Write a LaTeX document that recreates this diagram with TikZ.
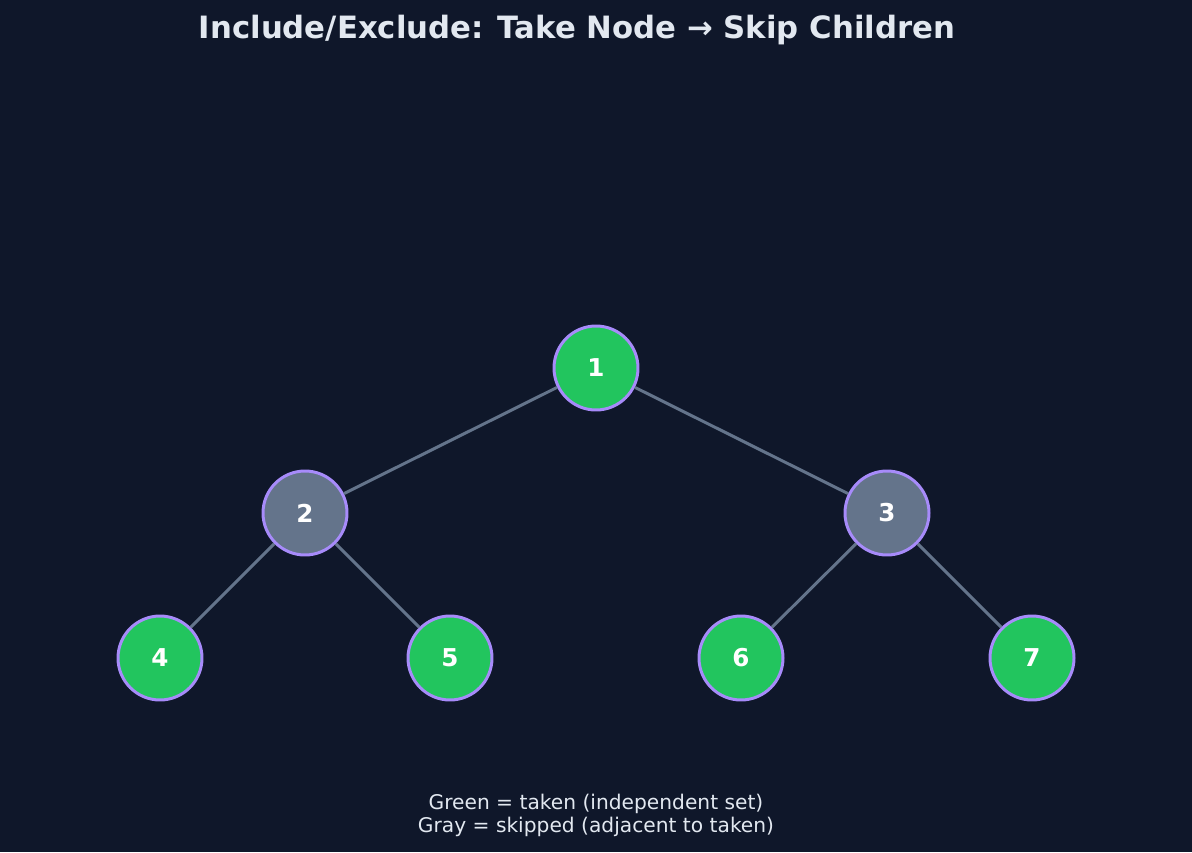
\documentclass[tikz,border=0pt]{standalone}
\usepackage{fontspec}
\setmainfont{DejaVu Sans}
\definecolor{bgcol}{HTML}{0F172A}
\definecolor{takencol}{HTML}{22C55E}
\definecolor{skipcol}{HTML}{64748B}
\definecolor{ringcol}{HTML}{A78BFA}
\definecolor{textcol}{HTML}{E2E8F0}
\tikzset{
    treenode/.style={circle, draw=ringcol, line width=1.7pt, minimum size=1.68cm,
        inner sep=0pt, text=white, font=\fontsize{14}{16}\selectfont\bfseries},
    taken/.style={treenode, fill=takencol},
    skipped/.style={treenode, fill=skipcol},
    treeedge/.style={draw=skipcol, line width=1.7pt}
}
\begin{document}
\begin{tikzpicture}[x=0.02cm, y=-0.02cm]
    % Background
    \fill[bgcol] (0,0) rectangle (1192,852);
    \useasboundingbox (0,0) rectangle (1192,852);

    % Title
    \node[text=textcol, font=\fontsize{17.5}{20}\selectfont\bfseries] (title) at (577,30)
        {Include/Exclude: Take Node → Skip Children};

    % Tree nodes
    \node[taken] (n1) at (596,368) {1};
    \node[skipped] (n2) at (305,513) {2};
    \node[skipped] (n3) at (887,513) {3};
    \node[taken] (n4) at (160,658) {4};
    \node[taken] (n5) at (450,658) {5};
    \node[taken] (n6) at (741,658) {6};
    \node[taken] (n7) at (1032,658) {7};

    % Edges
    \foreach \a/\b in {n1/n2, n1/n3, n2/n4, n2/n5, n3/n6, n3/n7} {
        \draw[treeedge] (\a) -- (\b);
    }

    % Legend
    \node[text=textcol, font=\fontsize{11.5}{13}\selectfont, align=center] (legend) at (596,815)
        {Green = taken (independent set)\\Gray = skipped (adjacent to taken)};
\end{tikzpicture}
\end{document}
